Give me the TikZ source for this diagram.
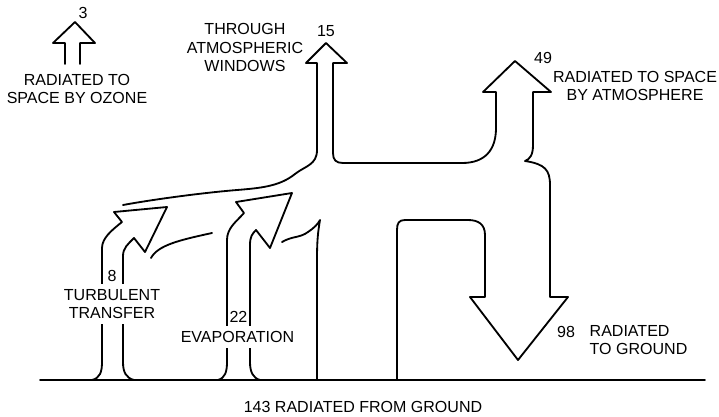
\documentclass[tikz,border=0pt]{standalone}
\usepackage{fontspec}
\setmainfont{Liberation Sans}
\usetikzlibrary{positioning}
\tikzset{
  flow/.style={line width=1.3pt, line join=round, line cap=round},
  lbl/.style={font=\fontsize{11.4}{12.8}\selectfont, align=center, inner sep=1pt},
  gap/.style={lbl, fill=white, inner xsep=1pt, inner ysep=4pt}
}

\begin{document}
\begin{tikzpicture}[x=0.025cm, y=-0.025cm]
    \useasboundingbox (0,0) rectangle (719,416);
    % ground
    \draw[flow] (40,380) -- (705,380);
    % ozone
    \draw[flow] (65,64) -- (65,43) -- (53,43) -- (75,22) -- (95,43) -- (80,43) -- (80,64);
    % main stream: windows, atmosphere, back to ground
    \draw[flow] (123,205) .. controls (150,200) and (200,193) .. (237,190)
      .. controls (262,188) and (280,186) .. (295,174)
      .. controls (305,166) and (317,165) .. (317,150)
      -- (317,63) -- (306,63) -- (326,43) -- (347,63) -- (333,63) -- (333,153)
      .. controls (333,160) and (336,163) .. (343,163) -- (462,163)
      .. controls (485,163) and (496,150) .. (496,128)
      -- (496,92) -- (483,92) -- (515,61) -- (551,92) -- (533,92) -- (533,145)
      .. controls (533,155) and (530,159) .. (525,161)
      .. controls (545,164) and (550,170) .. (550,185)
      -- (550,297) -- (568,297) -- (518,360) -- (470,297) -- (485,297) -- (485,235)
      .. controls (485,224) and (478,220) .. (468,220) -- (405,220)
      .. controls (399,220) and (397,223) .. (397,230) -- (397,380);
    % turbulent transfer
    \draw[flow] (92,380) .. controls (100,378) and (102,372) .. (102,362) -- (102,248)
      .. controls (102,238) and (112,230) .. (122,222) -- (114,212) -- (167,207) -- (145,252)
      -- (134,238) .. controls (128,244) and (123,248) .. (123,256) -- (123,362)
      .. controls (123,372) and (126,378) .. (134,380);
    % evaporation
    \draw[flow] (218,380) .. controls (225,378) and (227,372) .. (227,362) -- (227,240)
      .. controls (227,228) and (236,222) .. (244,213) -- (236,202) -- (292,193) -- (270,248)
      -- (256,230) .. controls (252,234) and (250,237) .. (250,245) -- (250,362)
      .. controls (250,372) and (253,378) .. (260,380);
    % rising column
    \draw[flow] (282,242) .. controls (292,236) and (300,238) .. (308,232)
      .. controls (314,228) and (318,224) .. (320,220)
      .. controls (318,232) and (317,240) .. (317,260) -- (317,380);
    \draw[flow] (151,258) .. controls (158,245) and (180,240) .. (212,233);
    % labels
    \node[lbl] (ozoneval) at (83,13) {3};
    \node[lbl] (ozone) at (77,88.5) {RADIATED TO\\SPACE BY OZONE};
    \node[lbl] (windval) at (326,31) {15};
    \node[lbl, font=\fontsize{11.4}{13.2}\selectfont] (wind) at (245,47.5) {THROUGH\\ATMOSPHERIC\\WINDOWS};
    \node[lbl] (atmval) at (543,58) {49};
    \node[lbl] (atm) at (635,86) {RADIATED TO SPACE\\BY ATMOSPHERE};
    \node[lbl] (turbval) at (112,276) {8};
    \node[gap] (turb) at (112,304) {TURBULENT\\TRANSFER};
    \node[lbl] (evapval) at (238.5,317) {22};
    \node[gap] (evap) at (237.5,337) {EVAPORATION};
    \node[lbl] (gndval) at (566,332) {98};
    \node[lbl, align=left, anchor=west] (gnd) at (588,340) {RADIATED\\TO GROUND};
    \node[lbl] (total) at (363,407) {143 RADIATED FROM GROUND};
\end{tikzpicture}
\end{document}
